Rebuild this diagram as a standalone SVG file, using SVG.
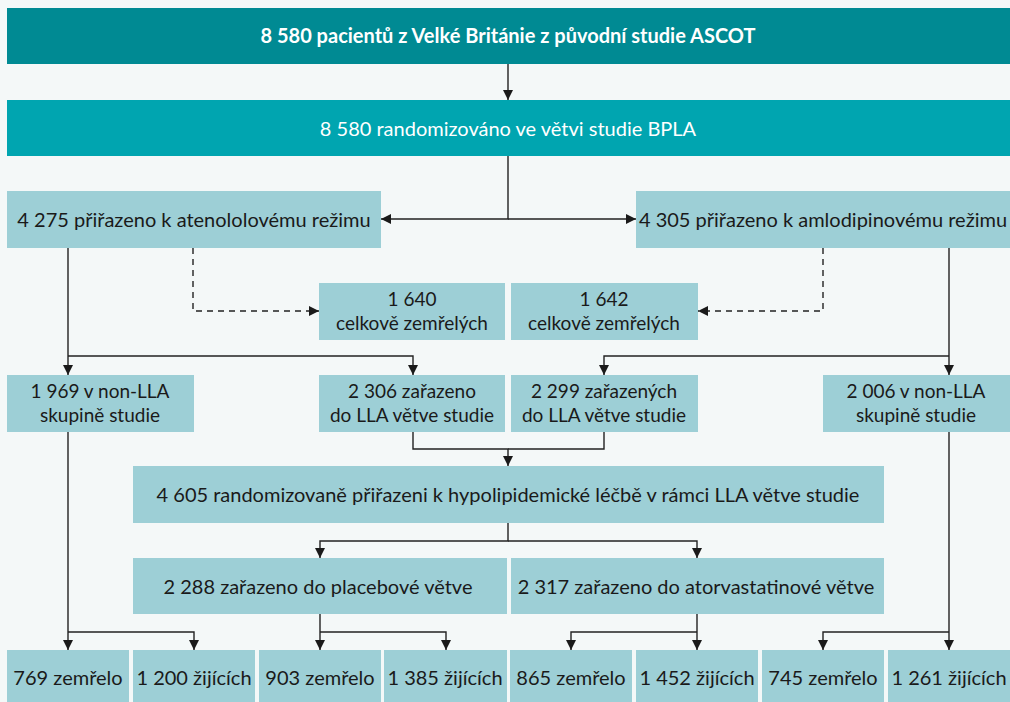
<svg xmlns="http://www.w3.org/2000/svg" width="1010" height="702" viewBox="0 0 1010 702">
<defs>
<style>
.bg{fill:#f4f8f8}
.dark{fill:#008a93}
.mid{fill:#00a5b0}
.box{fill:#9dcfd6}
text{font-family:Lato,"Noto Sans","Liberation Sans",sans-serif;font-size:20px;fill:#1a1a1a;text-anchor:middle}
.w{fill:#ffffff}
.b{font-weight:bold}
.t2{font-size:19px}
.ln{fill:none;stroke:#222;stroke-width:1.4}
.ds{stroke-dasharray:6 5}
</style>
<marker id="ah" viewBox="0 0 10 10" refX="10" refY="5" markerWidth="10" markerHeight="10" markerUnits="userSpaceOnUse" orient="auto">
<path d="M0,0 L10,5 L0,10 Z" fill="#1a1a1a"/>
</marker>
</defs>
<rect class="bg" x="0" y="0" width="1010" height="702"/>
<g id="connectors">
<path class="ln" d="M508,64 V100" marker-end="url(#ah)"/>
<path class="ln" d="M508,156 V219 H381" marker-end="url(#ah)"/>
<path class="ln" d="M508,219 H636" marker-end="url(#ah)"/>
<path class="ln ds" d="M193,248 V311 H319" marker-end="url(#ah)"/>
<path class="ln ds" d="M823,248 V311 H698" marker-end="url(#ah)"/>
<path class="ln" d="M68,248 V375" marker-end="url(#ah)"/>
<path class="ln" d="M68,356 H413 V375" marker-end="url(#ah)"/>
<path class="ln" d="M949,248 V375" marker-end="url(#ah)"/>
<path class="ln" d="M949,356 H604 V375" marker-end="url(#ah)"/>
<path class="ln" d="M413,432 V449 H508 V466" marker-end="url(#ah)"/>
<path class="ln" d="M604,432 V449 H508"/>
<path class="ln" d="M508,523 V541 H320 V558" marker-end="url(#ah)"/>
<path class="ln" d="M508,541 H697 V558" marker-end="url(#ah)"/>
<path class="ln" d="M68,432 V650" marker-end="url(#ah)"/>
<path class="ln" d="M68,632 H194 V650" marker-end="url(#ah)"/>
<path class="ln" d="M320,614 V650" marker-end="url(#ah)"/>
<path class="ln" d="M320,632 H446 V650" marker-end="url(#ah)"/>
<path class="ln" d="M697,614 V650" marker-end="url(#ah)"/>
<path class="ln" d="M697,632 H571 V650" marker-end="url(#ah)"/>
<path class="ln" d="M949,432 V650" marker-end="url(#ah)"/>
<path class="ln" d="M949,632 H823 V650" marker-end="url(#ah)"/>
</g>
<g id="n_top"><rect class="dark" x="7" y="8" width="1003" height="56"/><text class="w b" x="508" y="43">8 580 pacientů z Velké Británie z původní studie ASCOT</text></g>
<g id="n_bpla"><rect class="mid" x="7" y="100" width="1003" height="56"/><text class="w" x="508" y="136">8 580 randomizováno ve větvi studie BPLA</text></g>
<g id="n_aten"><rect class="box" x="7" y="191" width="374" height="57"/><text x="194" y="227">4 275 přiřazeno k atenololovému režimu</text></g>
<g id="n_amlo"><rect class="box" x="636" y="191" width="374" height="57"/><text x="823" y="227">4 305 přiřazeno k amlodipinovému režimu</text></g>
<g id="n_d1640"><rect class="box" x="319" y="283" width="186" height="57"/><text class="t2" x="412" y="306">1 640</text><text class="t2" x="412" y="330">celkově zemřelých</text></g>
<g id="n_d1642"><rect class="box" x="511" y="283" width="187" height="57"/><text class="t2" x="604" y="306">1 642</text><text class="t2" x="604" y="330">celkově zemřelých</text></g>
<g id="n_1969"><rect class="box" x="7" y="375" width="187" height="57"/><text class="t2" x="100" y="398">1 969 v non-LLA</text><text class="t2" x="100" y="422">skupině studie</text></g>
<g id="n_2306"><rect class="box" x="319" y="375" width="186" height="57"/><text class="t2" x="412" y="398">2 306 zařazeno</text><text class="t2" x="412" y="422">do LLA větve studie</text></g>
<g id="n_2299"><rect class="box" x="511" y="375" width="187" height="57"/><text class="t2" x="604" y="398">2 299 zařazených</text><text class="t2" x="604" y="422">do LLA větve studie</text></g>
<g id="n_2006"><rect class="box" x="823" y="375" width="187" height="57"/><text class="t2" x="916" y="398">2 006 v non-LLA</text><text class="t2" x="916" y="422">skupině studie</text></g>
<g id="n_4605"><rect class="box" x="133" y="466" width="751" height="57"/><text x="508" y="502">4 605 randomizovaně přiřazeni k hypolipidemické léčbě v rámci LLA větve studie</text></g>
<g id="n_2288"><rect class="box" x="133" y="558" width="374" height="56"/><text x="318" y="594">2 288 zařazeno do placebové větve</text></g>
<g id="n_2317"><rect class="box" x="511" y="558" width="373" height="56"/><text x="696" y="594">2 317 zařazeno do atorvastatinové větve</text></g>
<g id="n_769"><rect class="box" x="7" y="650" width="122" height="52"/><text x="68" y="685">769 zemřelo</text></g>
<g id="n_1200"><rect class="box" x="133" y="650" width="122" height="52"/><text x="194" y="685">1 200 žijících</text></g>
<g id="n_903"><rect class="box" x="259" y="650" width="122" height="52"/><text x="320" y="685">903 zemřelo</text></g>
<g id="n_1385"><rect class="box" x="384" y="650" width="123" height="52"/><text x="445" y="685">1 385 žijících</text></g>
<g id="n_865"><rect class="box" x="510" y="650" width="122" height="52"/><text x="571" y="685">865 zemřelo</text></g>
<g id="n_1452"><rect class="box" x="636" y="650" width="122" height="52"/><text x="697" y="685">1 452 žijících</text></g>
<g id="n_745"><rect class="box" x="762" y="650" width="122" height="52"/><text x="823" y="685">745 zemřelo</text></g>
<g id="n_1261"><rect class="box" x="888" y="650" width="122" height="52"/><text x="949" y="685">1 261 žijících</text></g>
</svg>
